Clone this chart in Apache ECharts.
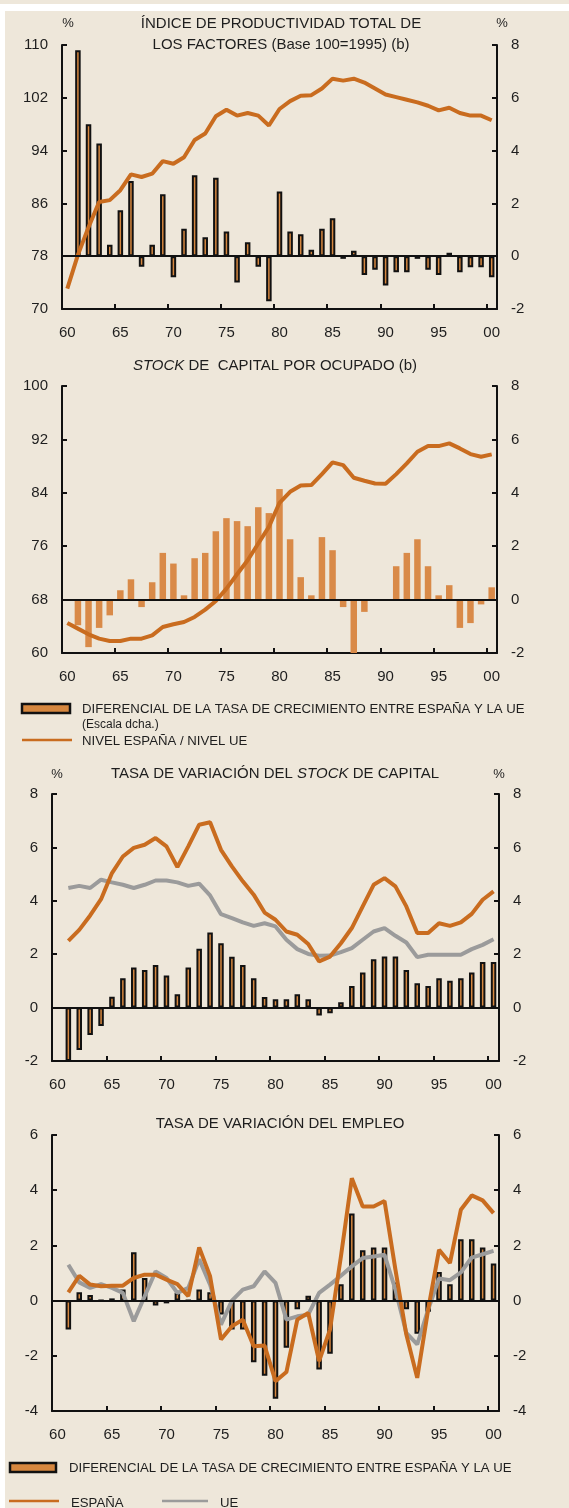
<!DOCTYPE html>
<html>
<head>
<meta charset="utf-8">
<script src="https://cdn.jsdelivr.net/npm/echarts@6/dist/echarts.min.js"></script>
<style>
  html, body { margin: 0; padding: 0; background: #ffffff; }
  #wrap { position: relative; width: 569px; height: 1508px; overflow: hidden; background: #ffffff; }
  #topstrip { position: absolute; left: 0; top: 0; width: 569px; height: 4px; background: #EEE7DA; }
  #panel { position: absolute; left: 5px; top: 11px; width: 564px; height: 1497px; background: #EEE7DA; }
  #chart { position: absolute; left: 0; top: 0; width: 569px; height: 1508px; }
</style>
</head>
<body>
<div id="wrap">
  <div id="topstrip"></div>
  <div id="panel"></div>
  <div id="chart"></div>
</div>
<script>
// ---------- DATA ----------
const years = [1960,1961,1962,1963,1964,1965,1966,1967,1968,1969,
               1970,1971,1972,1973,1974,1975,1976,1977,1978,1979,
               1980,1981,1982,1983,1984,1985,1986,1987,1988,1989,
               1990,1991,1992,1993,1994,1995,1996,1997,1998,1999,2000];

// Chart 1: Índice de productividad total de los factores
const tfpDiff = [null, 7.8, 5.0, 4.27, 0.43, 1.74, 2.85, -0.4, 0.43, 2.35, -0.8,
                 1.04, 3.07, 0.72, 2.97, 0.94, -1.0, 0.53, -0.4, -1.71, 2.45,
                 0.94, 0.83, 0.24, 1.04, 1.44, -0.1, 0.21, -0.71, -0.51, -1.11,
                 -0.61, -0.61, -0.1, -0.51, -0.71, 0.13, -0.61, -0.42, -0.42, -0.8];
const tfpLevel = [73.1, 78.2, 82.4, 86.2, 86.5, 88.0, 90.4, 90.0, 90.5, 92.4,
                  92.0, 93.0, 95.6, 96.6, 99.2, 100.2, 99.3, 99.7, 99.3, 97.8,
                  100.3, 101.5, 102.3, 102.4, 103.4, 104.9, 104.6, 104.9, 104.3, 103.4,
                  102.5, 102.1, 101.7, 101.3, 100.8, 100.1, 100.5, 99.7, 99.3, 99.3, 98.6];

// Chart 2: Stock de capital por ocupado
const kDiff = [null, -0.96, -1.78, -1.06, -0.59, 0.35, 0.76, -0.28, 0.65, 1.75, 1.35,
               0.16, 1.55, 1.75, 2.56, 3.05, 2.94, 2.75, 3.46, 3.24, 4.14,
               2.26, 0.84, 0.16, 2.34, 1.85, -0.28, -2.05, -0.46, 0, 0,
               1.25, 1.75, 2.26, 1.25, 0.16, 0.54, -1.06, -0.88, -0.18, 0.46];
const kLevel = [64.5, 63.65, 62.8, 62.15, 61.8, 61.8, 62.15, 62.15, 62.65, 63.9,
                64.3, 64.65, 65.4, 66.5, 67.8, 69.65, 71.8, 73.9, 76.4, 78.9,
                82.5, 84.15, 85.1, 85.15, 86.8, 88.55, 88.15, 86.25, 85.8, 85.4,
                85.35, 86.8, 88.4, 90.15, 91.0, 91.0, 91.4, 90.65, 89.8, 89.4, 89.75];

// Chart 3: Tasa de variación del stock de capital
const stockDiff = [null, -2.0, -1.59, -1.03, -0.69, 0.41, 1.1, 1.5, 1.41, 1.6, 1.2,
                   0.5, 1.5, 2.2, 2.81, 2.41, 1.9, 1.6, 1.1, 0.4, 0.31,
                   0.31, 0.5, 0.31, -0.3, -0.21, 0.2, 0.81, 1.31, 1.81, 1.91,
                   1.91, 1.41, 0.91, 0.81, 1.1, 1.01, 1.1, 1.31, 1.71, 1.71];
const stockES = [null, 2.5, 2.91, 3.45, 4.06, 5.04, 5.66, 5.98, 6.1, 6.35, 6.04,
                 5.26, 6.04, 6.85, 6.94, 5.91, 5.29, 4.73, 4.23, 3.56, 3.29,
                 2.85, 2.73, 2.38, 1.73, 1.91, 2.41, 2.98, 3.79, 4.6, 4.85,
                 4.54, 3.79, 2.79, 2.79, 3.16, 3.06, 3.19, 3.51, 4.04, 4.35];
const stockUE = [null, 4.48, 4.56, 4.48, 4.79, 4.69, 4.6, 4.48, 4.6, 4.76, 4.76,
                 4.69, 4.56, 4.64, 4.2, 3.5, 3.35, 3.19, 3.06, 3.16, 3.04,
                 2.54, 2.19, 2.01, 1.94, 1.95, 2.08, 2.23, 2.54, 2.85, 2.98,
                 2.69, 2.44, 1.89, 1.98, 1.98, 1.98, 1.98, 2.19, 2.35, 2.56];

// Chart 4: Tasa de variación del empleo
const empDiff = [null, -1.05, 0.3, 0.2, 0, 0.08, 0.4, 1.75, 0.82, -0.18, -0.1,
                 0.28, 0, 0.4, 0.3, -0.5, -1.05, -1.05, -2.23, -2.72, -3.56,
                 -1.71, -0.31, 0.18, -2.5, -1.93, 0.59, 3.16, 1.82, 1.92, 1.92,
                 0.66, -0.31, -1.2, -0.4, 1.04, 0.59, 2.22, 2.22, 1.92, 1.34];
const empES = [null, 0.3, 0.9, 0.58, 0.52, 0.54, 0.54, 0.82, 0.94, 0.94, 0.76,
               0.6, 0.16, 1.93, 0.88, -1.41, -0.93, -0.69, -1.65, -1.63, -2.92,
               -2.59, -0.69, -0.45, -2.19, -1.05, 1.6, 4.43, 3.41, 3.41, 3.61,
               1.12, -1.23, -2.8, -0.33, 1.84, 1.36, 3.29, 3.81, 3.63, 3.17];
const empUE = [null, 1.3, 0.66, 0.46, 0.6, 0.46, 0.28, -0.75, 0.16, 1.06, 0.82,
               0.28, 0.46, 1.5, 0.58, -0.87, 0.0, 0.4, 0.52, 1.06, 0.64,
               -0.69, -0.57, -0.51, 0.28, 0.58, 0.9, 1.24, 1.54, 1.6, 1.66,
               0.4, -1.17, -1.59, -0.33, 0.8, 0.74, 1.02, 1.56, 1.68, 1.8];

// ---------- STYLE ----------
const F = "'Liberation Sans', Arial, Helvetica, sans-serif";
const TXT = '#1e1e1e';
const ORANGE_LINE = '#C96C1F';
const ORANGE_BAR = '#D6873F';
const GRAY = '#9B9B9B';
const BLACK = '#111111';

const grids = [
  { left: 62, top: 45,   width: 435, height: 264 },
  { left: 62, top: 386,  width: 435, height: 267 },
  { left: 52, top: 794,  width: 447, height: 267 },
  { left: 52, top: 1135, width: 447, height: 276 }
];

function xAx(g) {
  return {
    type: 'category', gridIndex: g, data: years, boundaryGap: true,
    axisLine: { show: true, onZero: false, lineStyle: { color: BLACK, width: 2 } },
    axisTick: { show: true, inside: true, length: 5, interval: 4, lineStyle: { color: BLACK, width: 2 } },
    axisLabel: { interval: 4, formatter: v => String(v).slice(2), color: TXT, fontSize: 15, fontFamily: F, margin: 16 },
    splitLine: { show: false }
  };
}
function yAx(g, pos, min, max, interval) {
  return {
    type: 'value', gridIndex: g, position: pos, min: min, max: max, interval: interval,
    axisLine: { show: true, onZero: false, lineStyle: { color: BLACK, width: 2 } },
    axisTick: { show: true, inside: true, length: 5, lineStyle: { color: BLACK, width: 2 } },
    axisLabel: { color: TXT, fontSize: 15, fontFamily: F, margin: 14 },
    splitLine: { show: false }
  };
}
const zeroLine = {
  silent: true, symbol: ['none', 'none'], label: { show: false },
  lineStyle: { color: BLACK, width: 2, type: 'solid' },
  data: [{ yAxis: 0 }]
};
function outlinedBar(xi, yi, data) {
  return {
    type: 'bar', xAxisIndex: xi, yAxisIndex: yi, data: data, barWidth: 5.5, z: 2,
    itemStyle: { color: ORANGE_BAR, borderColor: BLACK, borderWidth: 2 },
    markLine: zeroLine
  };
}
function lineS(xi, yi, data, color) {
  return {
    type: 'line', xAxisIndex: xi, yAxisIndex: yi, data: data, symbol: 'none', z: 4,
    lineStyle: { color: color, width: 4 }, connectNulls: false
  };
}

function txt(x, y, text, size, align, extra) {
  const st = Object.assign({
    text: text, x: 0, y: 0, fill: TXT, fontSize: size, fontFamily: F,
    align: align || 'center', verticalAlign: 'middle'
  }, extra || {});
  return { type: 'text', x: x, y: y, silent: true, style: st };
}
const italicRich = { i: { fontStyle: 'italic', fontSize: 15, fontFamily: F, fill: TXT } };

const graphics = [
  // chart 1
  txt(281, 24, 'ÍNDICE DE PRODUCTIVIDAD TOTAL DE', 15),
  txt(281, 45, 'LOS FACTORES (Base 100=1995) (b)', 15),
  txt(68, 23, '%', 13),
  txt(502, 23, '%', 13),
  // chart 2
  txt(275, 366, '{i|STOCK} DE  CAPITAL POR OCUPADO (b)', 15, 'center', { rich: italicRich }),
  // legend 1
  { type: 'rect', silent: true, shape: { x: 22, y: 704, width: 48, height: 9 },
    style: { fill: ORANGE_BAR, stroke: BLACK, lineWidth: 2.5 } },
  txt(82, 709, 'DIFERENCIAL DE LA TASA DE CRECIMIENTO ENTRE ESPAÑA Y LA UE', 13.2, 'left'),
  txt(82, 725, '(Escala dcha.)', 12, 'left'),
  { type: 'line', silent: true, shape: { x1: 22, y1: 740, x2: 72, y2: 740 },
    style: { stroke: ORANGE_LINE, lineWidth: 2.5 } },
  txt(82, 741, 'NIVEL ESPAÑA / NIVEL UE', 13.2, 'left'),
  // chart 3
  txt(275, 774, 'TASA DE VARIACIÓN DEL {i|STOCK} DE CAPITAL', 15, 'center', { rich: italicRich }),
  txt(57, 774, '%', 13),
  txt(499, 774, '%', 13),
  // chart 4
  txt(280, 1124, 'TASA DE VARIACIÓN DEL EMPLEO', 15),
  // legend 2
  { type: 'rect', silent: true, shape: { x: 10, y: 1463, width: 46, height: 9 },
    style: { fill: ORANGE_BAR, stroke: BLACK, lineWidth: 2.5 } },
  txt(69, 1468, 'DIFERENCIAL DE LA TASA DE CRECIMIENTO ENTRE ESPAÑA Y LA UE', 13.2, 'left'),
  { type: 'line', silent: true, shape: { x1: 9, y1: 1501, x2: 59, y2: 1501 },
    style: { stroke: ORANGE_LINE, lineWidth: 2.5 } },
  txt(71, 1503, 'ESPAÑA', 13.2, 'left'),
  { type: 'line', silent: true, shape: { x1: 162, y1: 1501, x2: 208, y2: 1501 },
    style: { stroke: GRAY, lineWidth: 2.5 } },
  txt(220, 1503, 'UE', 13.2, 'left')
];

const option = {
  animation: false,
  backgroundColor: 'transparent',
  textStyle: { fontFamily: F },
  grid: grids,
  xAxis: [xAx(0), xAx(1), xAx(2), xAx(3)],
  yAxis: [
    yAx(0, 'left', 70, 110, 8), yAx(0, 'right', -2, 8, 2),
    yAx(1, 'left', 60, 100, 8), yAx(1, 'right', -2, 8, 2),
    yAx(2, 'left', -2, 8, 2),   yAx(2, 'right', -2, 8, 2),
    yAx(3, 'left', -4, 6, 2),   yAx(3, 'right', -4, 6, 2)
  ],
  series: [
    outlinedBar(0, 1, tfpDiff),
    lineS(0, 0, tfpLevel, ORANGE_LINE),
    {
      type: 'bar', xAxisIndex: 1, yAxisIndex: 3, data: kDiff, barWidth: 6.5, z: 2,
      itemStyle: { color: '#D98A48' }, markLine: zeroLine
    },
    lineS(1, 2, kLevel, ORANGE_LINE),
    outlinedBar(2, 4, stockDiff),
    lineS(2, 4, stockUE, GRAY),
    lineS(2, 4, stockES, ORANGE_LINE),
    outlinedBar(3, 6, empDiff),
    lineS(3, 6, empUE, GRAY),
    lineS(3, 6, empES, ORANGE_LINE)
  ],
  graphic: graphics
};

const chart = echarts.init(document.getElementById('chart'), null, { renderer: 'canvas' });
chart.setOption(option);
</script>
</body>
</html>
